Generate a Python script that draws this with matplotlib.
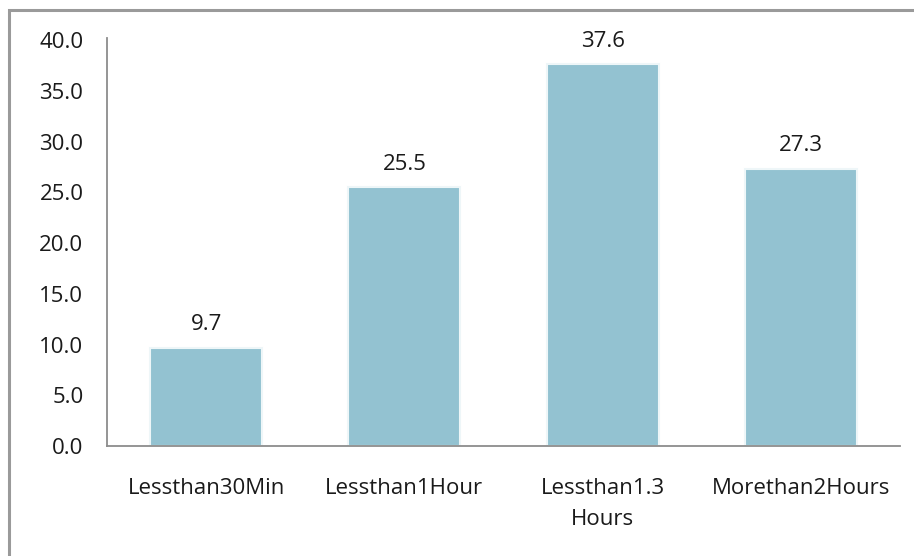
import matplotlib
matplotlib.use("Agg")
import matplotlib.pyplot as plt
from matplotlib.patches import Rectangle

categories = ["Lessthan30Min", "Lessthan1Hour", "Lessthan1.3\nHours", "Morethan2Hours"]
values = [9.7, 25.5, 37.6, 27.3]
yticks = [0, 5, 10, 15, 20, 25, 30, 35, 40]

plt.rcParams['font.family'] = ['Open Sans', 'DejaVu Sans']

W, H = 914, 556
fig = plt.figure(figsize=(W / 100, H / 100), dpi=100)
fig.patch.set_facecolor("white")

# outer frame (extends beyond right/bottom edges)
fig.patches.append(Rectangle((9 / W, -0.1), 1.2, 1 - 10 / H + 0.1,
                             transform=fig.transFigure, fill=False,
                             edgecolor="#9a9a9a", lw=2.2, zorder=0))

ax = fig.add_axes([107 / W, 1 - 446 / H, (900 - 107) / W, (446 - 38) / H])
bars = ax.bar(range(len(values)), values, width=0.565, color="#93C2D1",
              edgecolor="#eef6f8", linewidth=1.5)
ax.set_xlim(-0.5, len(values) - 0.5)
ax.set_ylim(0, 40.2)
ax.set_yticks(yticks)
ax.set_yticklabels([f"{v:.1f}" for v in yticks])
ax.set_xticks(range(len(values)))
ax.set_xticklabels(categories, linespacing=1.6)
ax.tick_params(axis='y', length=0, pad=17, labelsize=16, labelcolor="#1a1a1a")
ax.tick_params(axis='x', length=0, pad=23, labelsize=16, labelcolor="#1a1a1a")
for s in ["top", "right"]:
    ax.spines[s].set_visible(False)
for s in ["left", "bottom"]:
    ax.spines[s].set_color("#8c8c8c")
    ax.spines[s].set_linewidth(1.3)

for i, v in enumerate(values):
    ax.annotate(f"{v:.1f}", (i, v), xytext=(0, 9), textcoords="offset points",
                ha="center", va="bottom", fontsize=16, color="#1a1a1a")

fig.savefig("out.png", dpi=100)
